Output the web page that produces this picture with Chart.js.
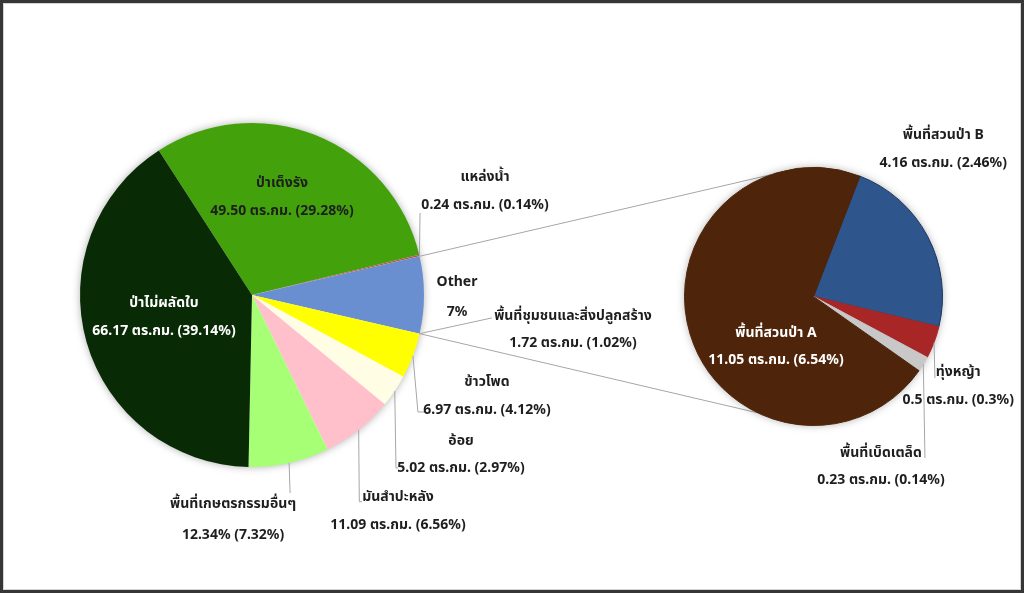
<!DOCTYPE html>
<html><head><meta charset="utf-8">
<script src="https://cdn.jsdelivr.net/npm/chart.js@4/dist/chart.umd.min.js"></script>
<style>
html,body{margin:0;padding:0;background:#fff;}
#wrap{position:relative;width:1024px;height:593px;overflow:hidden;background:#fff;}
canvas{position:absolute;left:0;top:0;}
#frame{position:absolute;left:0;top:0;width:1024px;height:593px;box-sizing:border-box;border:3px solid #363636;box-shadow:inset 0 0 0 1px #d4d4d4;pointer-events:none;}
</style></head><body>
<div id="wrap">
<canvas id="mainPie" width="1024" height="593"></canvas>
<canvas id="subPie" width="1024" height="593"></canvas>
<div id="frame"></div>
</div>
<script>
// ---- data (main pie, clockwise from the top-left boundary) ----
const mainCategories = ['ป่าเต็งรัง', 'แหล่งน้ำ', 'Other', 'พื้นที่ชุมชนและสิ่งปลูกสร้าง', 'ข้าวโพด', 'อ้อย', 'มันสำปะหลัง', 'พื้นที่เกษตรกรรมอื่นๆ', 'ป่าไม่ผลัดใบ'];
const mainValues = [49.50, 0.24, 11.78, 0, 6.97, 5.02, 11.09, 12.34, 66.17];
const mainValueLabels = ['49.50 ตร.กม. (29.28%)', '0.24 ตร.กม. (0.14%)', '7%', '1.72 ตร.กม. (1.02%)', '6.97 ตร.กม. (4.12%)', '5.02 ตร.กม. (2.97%)', '11.09 ตร.กม. (6.56%)', '12.34% (7.32%)', '66.17 ตร.กม. (39.14%)'];
const mainColors = ['#43a20b', '#c0504d', '#6a8fd1', '#6a8fd1', '#ffff00', '#fffde4', '#ffc0cb', '#a6ff75', '#082a05'];

// ---- data (secondary pie) ----
const subCategories = ['พื้นที่สวนป่า B', 'ทุ่งหญ้า', 'พื้นที่เบ็ดเตล็ด', 'พื้นที่สวนป่า A'];
const subValues = [3.56, 0.63, 0.30, 11.05];
const subValueLabels = ['4.16 ตร.กม. (2.46%)', '0.5 ตร.กม. (0.3%)', '0.23 ตร.กม. (0.14%)', '11.05 ตร.กม. (6.54%)'];
const subColors = ['#2e558c', '#a92626', '#c8c8c8', '#4e240a'];
const subBorders = ['#1b355e', '#a92626', '#c8c8c8', '#4e240a'];

const FONT = 'bold 14px "Noto Sans", "Noto Sans Thai", "DejaVu Sans", sans-serif';
const DARK = '#1e1e1e';
const LEADER = '#a6a6a6';

// shadow under each pie
const shadowPlugin = {
  id: 'pieShadow',
  beforeDatasetsDraw(chart) {
    const a = chart.getDatasetMeta(0).data[0];
    const ctx = chart.ctx;
    ctx.save();
    ctx.shadowColor = 'rgba(0,0,0,0.35)';
    ctx.shadowBlur = 9;
    ctx.fillStyle = '#ffffff';
    ctx.beginPath();
    ctx.arc(a.x, a.y, a.outerRadius - 0.5, 0, Math.PI * 2);
    ctx.fill();
    ctx.restore();
  }
};

// labels + leader lines
const labelPlugin = {
  id: 'sliceLabels',
  afterDatasetsDraw(chart, args, opts) {
    const ctx = chart.ctx;
    const meta = chart.getDatasetMeta(0);
    const a0 = meta.data[0];
    const cx = a0.x, cy = a0.y, R = a0.outerRadius;
    ctx.save();
    opts.items.forEach(it => {
      const arc = meta.data[it.index];
      const bx = cx + it.pos[0] * R, by = cy + it.pos[1] * R;
      if (it.leader) {
        const mid = (arc.startAngle + arc.endAngle) / 2;
        ctx.beginPath();
        ctx.moveTo(cx + Math.cos(mid) * R, cy + Math.sin(mid) * R);
        it.leader.forEach(p => ctx.lineTo(bx + p[0], by + p[1]));
        ctx.strokeStyle = LEADER;
        ctx.lineWidth = 1;
        ctx.stroke();
      }
      ctx.fillStyle = it.color || DARK;
      ctx.font = FONT;
      ctx.textAlign = 'center';
      ctx.textBaseline = 'middle';
      const gap = it.gap || 28;
      const lines = [opts.categories[it.index], opts.values[it.index]];
      lines.forEach((ln, k) => ctx.fillText(ln, bx, by + (k - 0.5) * gap));
    });
    ctx.restore();
  }
};

const mainChart = new Chart(document.getElementById('mainPie'), {
  type: 'pie',
  data: {
    labels: mainCategories,
    datasets: [{ data: mainValues, backgroundColor: mainColors, borderWidth: 0, hoverOffset: 0, offset: 0 }]
  },
  options: {
    responsive: false, animation: false, events: [],
    rotation: -32.8,
    radius: 172,
    layout: { padding: { left: 80, right: 600, top: 123, bottom: 126 } },
    plugins: {
      legend: { display: false }, tooltip: { enabled: false },
      sliceLabels: {
        categories: mainCategories, values: mainValueLabels,
        items: [
          { index: 0, pos: [0.174, -0.570] },
          { index: 1, pos: [1.355, -0.605], leader: [[-65, 22]] },
          { index: 2, pos: [1.192, 0.010], gap: 30 },
          { index: 3, pos: [1.866, 0.203], gap: 27, leader: [[-81, -12]] },
          { index: 4, pos: [1.366, 0.587], leader: [[-69, 16], [-62, 16]] },
          { index: 5, pos: [1.215, 0.930], gap: 27, leader: [[-65, 13], [-63, 13]] },
          { index: 6, pos: [0.849, 1.256], leader: [[-38.7, -9.3], [-36, -9.3]] },
          { index: 7, pos: [-0.110, 1.308], gap: 31, leader: [[57, -27]] },
          { index: 8, pos: [-0.512, 0.128], color: '#ffffff' }
        ]
      }
    }
  },
  plugins: [shadowPlugin, labelPlugin]
});

// connector lines from "Other" slice to the secondary pie
const connectorAngles = [-19.3, 205.5]; // degrees from 12 o'clock on the secondary pie
const connectorPlugin = {
  id: 'connectors',
  beforeDatasetsDraw(chart) {
    const mArcs = mainChart.getDatasetMeta(0).data;
    const other = mArcs[mainCategories.indexOf('Other')];
    const s = chart.getDatasetMeta(0).data[0];
    const ctx = chart.ctx;
    const ends = [other.startAngle, other.endAngle];
    ctx.save();
    ctx.strokeStyle = LEADER;
    ctx.lineWidth = 1;
    ends.forEach((ang, i) => {
      const t = (connectorAngles[i] - 90) * Math.PI / 180;
      ctx.beginPath();
      ctx.moveTo(other.x + Math.cos(ang) * other.outerRadius, other.y + Math.sin(ang) * other.outerRadius);
      ctx.lineTo(s.x + Math.cos(t) * s.outerRadius, s.y + Math.sin(t) * s.outerRadius);
      ctx.stroke();
    });
    ctx.restore();
  }
};

new Chart(document.getElementById('subPie'), {
  type: 'pie',
  data: {
    labels: subCategories,
    datasets: [{ data: subValues, backgroundColor: subColors, borderColor: subBorders, borderWidth: 1, hoverOffset: 0, offset: 0 }]
  },
  options: {
    responsive: false, animation: false, events: [],
    rotation: 21.1,
    radius: 129,
    layout: { padding: { left: 684.5, right: 81.5, top: 167.5, bottom: 167.5 } },
    plugins: {
      legend: { display: false }, tooltip: { enabled: false },
      sliceLabels: {
        categories: subCategories, values: subValueLabels,
        items: [
          { index: 0, pos: [1.006, -1.143] },
          { index: 1, pos: [1.122, 0.694], leader: [[-23.3, -8]] },
          { index: 2, pos: [0.523, 1.319], gap: 27, leader: [[44, -8.7]] },
          { index: 3, pos: [-0.291, 0.389], gap: 27, color: '#ffffff' }
        ]
      }
    }
  },
  plugins: [connectorPlugin, shadowPlugin, labelPlugin]
});
</script>
</body></html>
